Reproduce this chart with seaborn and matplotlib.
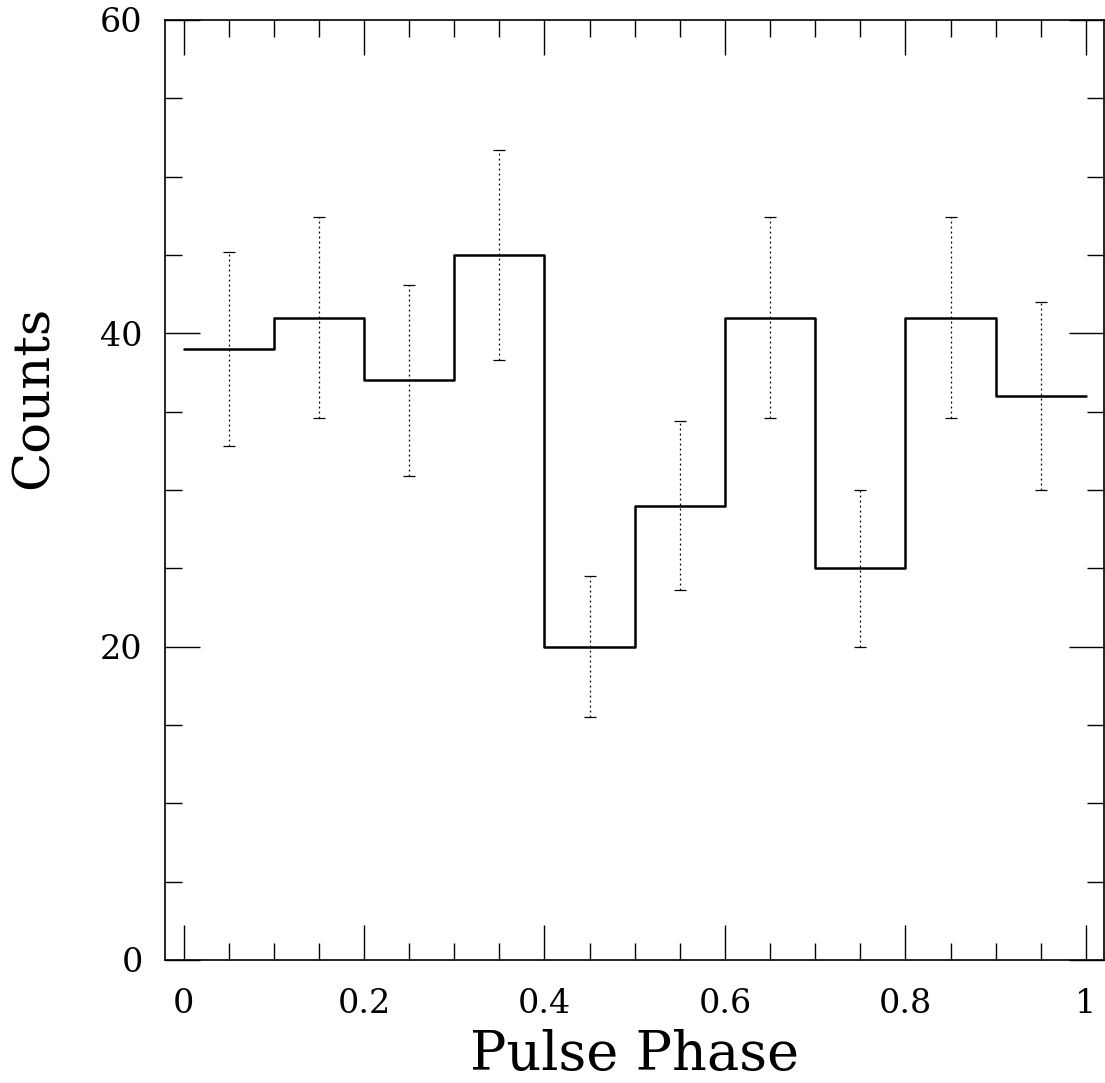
import numpy as np
import pandas as pd
import matplotlib
matplotlib.use("Agg")
import matplotlib.pyplot as plt
import seaborn as sns
from matplotlib.ticker import MultipleLocator

# Light curve, 10 phase bins
bin_left = [0.0, 0.1, 0.2, 0.3, 0.4, 0.5, 0.6, 0.7, 0.8, 0.9]
bin_mid = [0.05, 0.15, 0.25, 0.35, 0.45, 0.55, 0.65, 0.75, 0.85, 0.95]
counts = [39, 41, 37, 45, 20, 29, 41, 25, 41, 36]
errors = [6.2, 6.4, 6.1, 6.7, 4.5, 5.4, 6.4, 5.0, 6.4, 6.0]

sns.set_style("ticks")
plt.rcParams["font.family"] = ["DejaVu Serif"]
plt.rcParams["text.color"] = "black"
plt.rcParams["axes.labelcolor"] = "black"

fig = plt.figure(figsize=(11.05, 10.83), dpi=100)
ax = fig.add_axes([165 / 1105, 123 / 1083, 939 / 1105, 940 / 1083])

# step histogram, last level held to phase 1
df = pd.DataFrame({"phase": bin_left + [1.0], "counts": counts + [counts[-1]]})
sns.lineplot(data=df, x="phase", y="counts", drawstyle="steps-post",
             color="black", linewidth=1.8, estimator=None, sort=False, ax=ax)

eb = ax.errorbar(bin_mid, counts, yerr=errors, fmt="none", ecolor="black",
                 elinewidth=0.9, capsize=4, capthick=0.9)
for lc in eb[2]:
    lc.set_linestyle((0, (1.5, 2.5)))

ax.set_xlim(-0.0205, 1.02)
ax.set_ylim(0, 60)
ax.xaxis.set_minor_locator(MultipleLocator(0.05))
ax.yaxis.set_minor_locator(MultipleLocator(5))
ax.set_xticks([0, 0.2, 0.4, 0.6, 0.8, 1.0])
ax.set_xticklabels(["0", "0.2", "0.4", "0.6", "0.8", "1"])
ax.set_yticks([0, 20, 40, 60])
ax.set_yticklabels(["0", "20", "40", "60"])

ax.tick_params(which="both", direction="in", top=True, right=True,
               color="black", labelcolor="black", width=1.0, labelsize=24)
ax.tick_params(axis="x", pad=20)
ax.tick_params(axis="y", pad=16)
ax.tick_params(which="major", length=25)
ax.tick_params(which="minor", length=12)
for sp in ax.spines.values():
    sp.set_visible(True)
    sp.set_linewidth(1.2)
    sp.set_color("black")

ax.set_xlabel("Pulse Phase", fontsize=39)
ax.xaxis.set_label_coords(0.5, -0.073)
ax.set_ylabel("Counts", fontsize=37)
ax.yaxis.set_label_coords(-0.113, 0.599)

fig.savefig("out.png", dpi=100)
